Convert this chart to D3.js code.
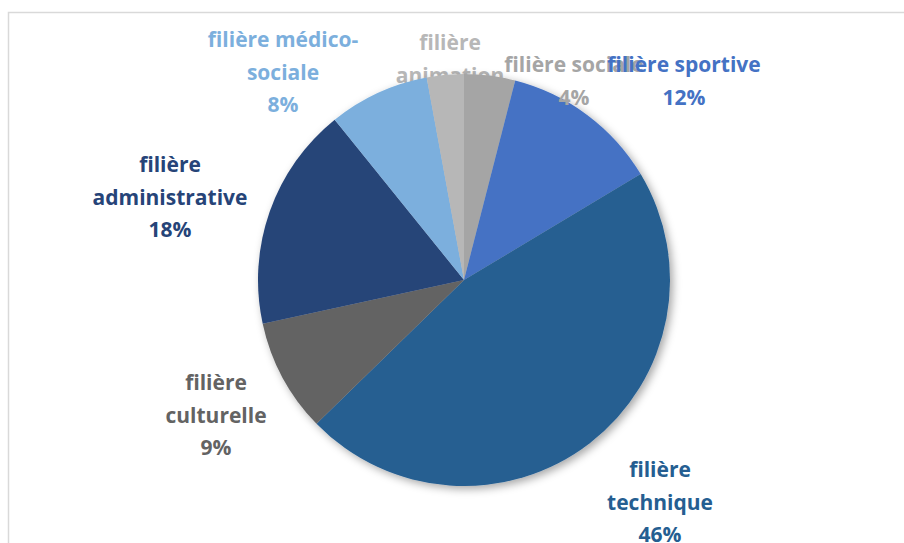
<!DOCTYPE html>
<html>
<head>
  <meta charset="utf-8">
  <title>Répartition par filière</title>
  <style>
    body { margin: 0; background: white; }
    svg { display: block; }
    text { font-family: "Open Sans", Lato, sans-serif; font-weight: bold; }
  </style>
</head>
<body>
  <svg width="904" height="543"></svg>
  <script src="https://d3js.org/d3.v7.min.js"></script>
  <script>
    // clockwise from 12 o'clock
    const categories = ["filière sociale", "filière sportive", "filière technique", "filière culturelle",
      "filière administrative", "filière médico-sociale", "filière animation"];
    const values = [4.0, 12.4, 46.3, 8.9, 17.6, 7.9, 2.9];
    const colors = ["#a5a5a5", "#4472c4", "#255e91", "#636363", "#264478", "#7cafdd", "#b7b7b7"];
    // label lines as shown in the chart
    const labelLines = [
      ["filière sociale"], ["filière sportive"], ["filière", "technique"], ["filière", "culturelle"],
      ["filière", "administrative"], ["filière médico-", "sociale"], ["filière", "animation"]
    ];
    const labelPos = [[574, 65], [684, 65], [660, 470], [216, 383], [170, 165], [283, 40], [450, 43]];

    const width = 904, height = 543;
    const cx = 464, cy = 280, r = 206;
    const lineH = 32.5;

    const svg = d3.select("svg");

    const defs = svg.append("defs");
    const f = defs.append("filter").attr("id", "shadow")
      .attr("x", "-10%").attr("y", "-10%").attr("width", "130%").attr("height", "130%");
    f.append("feDropShadow").attr("dx", 3).attr("dy", 3).attr("stdDeviation", 4)
      .attr("flood-color", "#000").attr("flood-opacity", 0.35);

    // chart area border
    svg.append("rect")
      .attr("x", 8.5).attr("y", 12.5).attr("width", width + 20).attr("height", height + 20)
      .attr("fill", "none").attr("stroke", "#d9d9d9").attr("stroke-width", 1.5);

    const total = d3.sum(values);
    const color = d3.scaleOrdinal().domain(categories).range(colors);
    const pie = d3.pie().sort(null).value(d => d)(values);
    const arc = d3.arc().innerRadius(0).outerRadius(r);

    function drawLabel(g, i) {
      const lines = labelLines[i].concat([Math.round(values[i] / total * 100) + "%"]);
      const [lx, ly] = labelPos[i];
      g.append("text")
        .attr("x", lx).attr("y", ly)
        .attr("text-anchor", "middle")
        .attr("font-size", 21)
        .attr("fill", color(categories[i]))
        .selectAll("tspan")
        .data(lines)
        .join("tspan")
        .attr("x", lx)
        .attr("dy", (d, j) => j === 0 ? "0.35em" : lineH)
        .text(d => d);
    }

    // animation label sits behind the pie
    const under = svg.append("g");
    drawLabel(under, 6);

    const g = svg.append("g").attr("transform", `translate(${cx},${cy})`);
    g.append("g").attr("filter", "url(#shadow)")
      .selectAll("path")
      .data(pie)
      .join("path")
      .attr("d", arc)
      .attr("fill", (d, i) => color(categories[i]));

    const over = svg.append("g");
    [0, 1, 2, 3, 4, 5].forEach(i => drawLabel(over, i));
  </script>
</body>
</html>
